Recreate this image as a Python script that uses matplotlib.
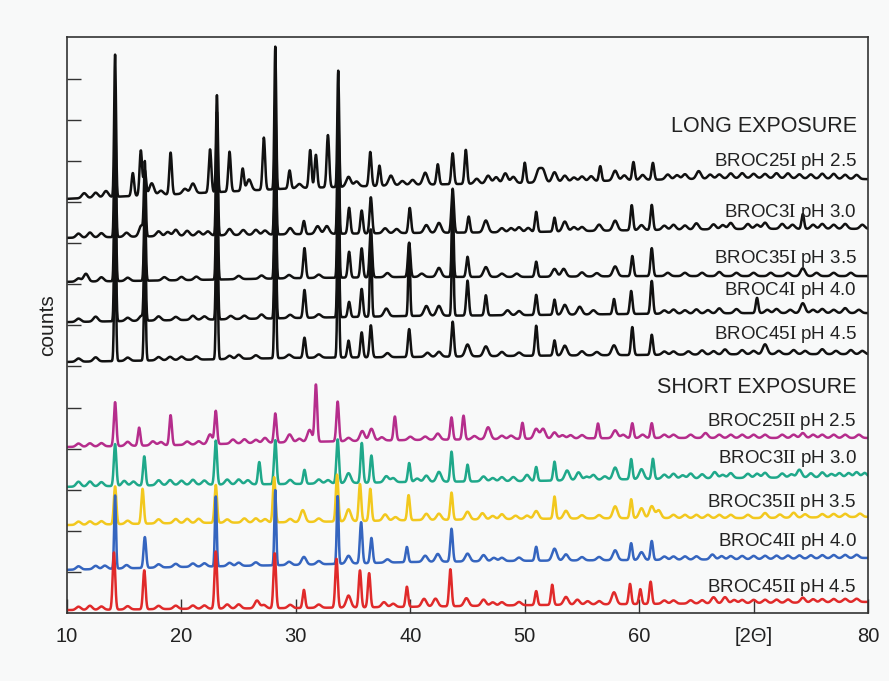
import numpy as np
import matplotlib.pyplot as plt

plt.rcParams['font.family'] = ['Liberation Sans', 'DejaVu Sans']
plt.rcParams['mathtext.fontset'] = 'stix'

# x axis
xticks = [10, 20, 30, 40, 50, 60, 70, 80]
xtick_labels = ["10", "20", "30", "40", "50", "60", "[2\u0398]", "80"]

# baseline level (counts) read at 2theta = 10, 20, ..., 80
base_2theta = [10, 20, 30, 40, 50, 60, 70, 80]
base_25I = [1008, 1020, 1034, 1042, 1047, 1054, 1059, 1056]
base_3I = [913, 918, 922, 925, 927, 932, 935, 935]
base_35I = [806, 810, 815, 818, 818, 820, 820, 820]
base_4I = [708, 713, 718, 723, 725, 728, 730, 730]
base_45I = [611, 616, 621, 623, 626, 628, 630, 630]
base_25II = [404, 409, 416, 421, 424, 426, 426, 426]
base_3II = [307, 312, 314, 319, 321, 326, 329, 331]
base_35II = [214, 219, 221, 226, 229, 231, 231, 234]
base_4II = [105, 112, 117, 124, 127, 129, 131, 134]
base_45II = [7, 10, 12, 15, 19, 22, 24, 27]

# peaks (2theta, height in counts above baseline)
peaks_25I = [(11.5, 12), (12.5, 12), (13.4, 15), (14.2, 346), (15.75, 56), (16.45, 110),
             (16.8, 61), (17.4, 29), (18.2, 10), (19.05, 102), (20.3, 12), (21.0, 24),
             (22.5, 105), (23.1, 236), (24.2, 97), (25.35, 54), (25.9, 27), (27.2, 127),
             (28.2, 347), (29.45, 44), (30.3, 10), (31.25, 92), (31.75, 80), (32.8, 127),
             (33.7, 283), (34.6, 24), (35.3, 12), (36.5, 83), (37.3, 49), (38.3, 24),
             (39.3, 10), (40.2, 12), (41.3, 29), (42.4, 49), (43.7, 75), (44.85, 83),
             (45.8, 12), (46.8, 19), (47.5, 15), (48.3, 24), (49.0, 15), (50.0, 49),
             (51.2, 29), (51.6, 29), (52.6, 24), (53.5, 15), (54.3, 10), (55.0, 12),
             (55.8, 12), (56.6, 36), (57.9, 24), (58.7, 12), (59.5, 44), (60.3, 12),
             (61.2, 41), (62.5, 12), (63.3, 10), (64.0, 12), (65.2, 19), (66.2, 10),
             (67.0, 10), (68.0, 12), (69.0, 12), (70.0, 10), (71.0, 10), (72.0, 12),
             (73.0, 12), (74.0, 10), (75.0, 10), (76.0, 12), (77.0, 12), (78.0, 10), (79.0, 10)]
peaks_3I = [(11.0, 10), (12.0, 12), (13.0, 10), (14.2, 300), (15.2, 10), (16.5, 27),
            (16.8, 175), (18.0, 12), (18.8, 10), (19.5, 15), (20.5, 12), (21.5, 10),
            (22.3, 10), (23.1, 300), (24.2, 15), (25.4, 12), (26.5, 12), (27.3, 10),
            (28.2, 320), (29.5, 15), (30.7, 32), (31.9, 19), (32.7, 19), (33.7, 300),
            (34.65, 63), (35.75, 56), (36.55, 88), (37.8, 12), (38.8, 10), (39.95, 61),
            (41.4, 19), (42.5, 24), (43.7, 107), (45.1, 39), (46.6, 29), (48.0, 10),
            (48.8, 10), (49.5, 12), (50.3, 10), (51.0, 49), (52.6, 34), (53.5, 24),
            (54.3, 10), (55.0, 10), (56.5, 15), (57.9, 24), (59.35, 61), (60.2, 12),
            (61.1, 61), (62.2, 10), (63.0, 12), (64.0, 10), (65.0, 15), (66.5, 12),
            (67.3, 10), (68.0, 15), (69.5, 12), (70.3, 10), (71.0, 15), (72.5, 12),
            (73.4, 10), (74.3, 36), (75.2, 10), (76.0, 12), (77.0, 10), (78.0, 12), (79.5, 10)]
peaks_35I = [(11.0, 8), (11.65, 19), (13.0, 10), (14.2, 330), (15.3, 8), (16.8, 195),
             (18.5, 8), (20.0, 8), (21.3, 8), (23.1, 330), (25.0, 8), (27.0, 8),
             (28.2, 330), (29.4, 8), (30.75, 73), (32.0, 8), (33.7, 330), (34.65, 63),
             (35.75, 71), (36.55, 117), (38.0, 10), (39.9, 83), (41.0, 8), (42.5, 22),
             (43.7, 187), (45.0, 49), (46.6, 24), (48.0, 8), (49.3, 8), (51.0, 37),
             (52.6, 19), (53.4, 19), (55.0, 10), (56.3, 8), (57.9, 24), (59.4, 49),
             (61.1, 68), (62.5, 8), (64.0, 8), (65.5, 8), (67.0, 10), (68.5, 8),
             (70.0, 8), (71.5, 8), (73.0, 8), (74.3, 19), (75.5, 8), (77.0, 8), (78.5, 8)]
peaks_4I = [(11.0, 8), (12.5, 12), (14.2, 320), (15.3, 8), (16.5, 12), (16.8, 230),
            (18.0, 10), (19.5, 8), (21.0, 10), (22.0, 8), (23.1, 320), (24.3, 8),
            (25.5, 8), (27.0, 10), (28.2, 320), (29.5, 8), (30.75, 68), (32.0, 8),
            (33.7, 320), (34.65, 37), (35.75, 68), (36.55, 212), (37.9, 19), (39.9, 178),
            (41.4, 24), (42.5, 24), (43.7, 234), (45.0, 85), (46.6, 49), (48.5, 12),
            (49.5, 10), (51.0, 49), (52.6, 37), (53.5, 24), (54.8, 19), (56.0, 10),
            (57.8, 37), (59.3, 56), (61.1, 80), (62.2, 8), (63.0, 10), (64.0, 8),
            (65.0, 10), (66.0, 8), (67.0, 12), (68.5, 10), (70.3, 37), (71.2, 8),
            (72.0, 10), (73.2, 8), (74.3, 24), (75.2, 8), (76.0, 10), (77.0, 8),
            (78.0, 12), (79.2, 8)]
peaks_45I = [(11.0, 8), (12.5, 10), (14.2, 300), (15.3, 8), (16.8, 230), (18.0, 8),
             (19.0, 8), (20.0, 8), (21.3, 8), (23.1, 300), (24.2, 8), (25.0, 10),
             (26.5, 8), (28.2, 300), (29.4, 8), (30.75, 49), (32.0, 8), (33.7, 300),
             (34.6, 41), (35.75, 61), (36.55, 78), (38.0, 10), (39.9, 68), (41.5, 10),
             (42.5, 12), (43.7, 85), (45.0, 29), (46.6, 24), (48.0, 10), (49.5, 8),
             (51.0, 73), (52.6, 37), (53.5, 24), (55.0, 10), (56.3, 8), (57.8, 24),
             (59.4, 68), (61.1, 49), (62.2, 8), (63.0, 8), (64.3, 8), (65.5, 10),
             (66.5, 8), (67.5, 12), (69.0, 10), (70.0, 8), (71.0, 24), (72.2, 8),
             (73.5, 10), (74.5, 8), (76.0, 12), (77.2, 8), (78.5, 10), (79.5, 8)]
peaks_25II = [(11.0, 8), (12.0, 8), (13.0, 8), (14.2, 107), (15.3, 10), (16.3, 44),
              (17.5, 10), (18.2, 8), (19.05, 73), (20.5, 8), (21.5, 8), (22.5, 24),
              (23.0, 80), (24.5, 10), (25.5, 10), (26.5, 8), (27.3, 12), (28.2, 71),
              (29.45, 19), (30.3, 8), (31.2, 29), (31.75, 139), (33.65, 97), (34.6, 8),
              (35.8, 24), (36.6, 29), (37.5, 8), (38.65, 58), (40.0, 8), (41.3, 8),
              (42.4, 15), (43.6, 54), (44.65, 58), (45.6, 8), (46.8, 29), (48.0, 8),
              (48.8, 8), (49.8, 39), (51.0, 24), (51.6, 24), (52.6, 15), (53.3, 8),
              (54.0, 8), (55.0, 8), (56.4, 36), (57.9, 19), (58.6, 8), (59.4, 36),
              (60.3, 8), (61.1, 36), (62.2, 8), (63.0, 8), (64.5, 8), (65.8, 12),
              (67.0, 8), (68.0, 8), (69.0, 8), (70.0, 8), (71.0, 8), (72.5, 8),
              (73.5, 8), (74.3, 12), (75.2, 8), (76.0, 8), (77.0, 8), (78.0, 8), (79.2, 8)]
peaks_3II = [(11.0, 12), (12.0, 12), (13.0, 10), (14.2, 102), (15.0, 12), (15.8, 10),
             (16.75, 71), (18.0, 12), (19.0, 12), (20.0, 10), (21.0, 12), (22.0, 10),
             (23.0, 107), (24.0, 12), (25.0, 12), (25.8, 10), (26.8, 54), (28.2, 107),
             (29.5, 10), (30.75, 34), (32.0, 10), (32.8, 8), (33.65, 107), (34.6, 24),
             (35.76, 97), (36.6, 66), (37.9, 15), (38.5, 10), (39.9, 46), (40.6, 8),
             (41.4, 15), (42.5, 24), (43.6, 73), (45.0, 41), (46.4, 12), (47.2, 8),
             (48.0, 10), (49.0, 10), (50.2, 15), (51.0, 34), (52.6, 46), (53.7, 24),
             (54.7, 19), (55.4, 8), (56.0, 12), (57.0, 8), (57.9, 29), (59.3, 49),
             (60.2, 24), (61.2, 49), (62.2, 10), (63.0, 12), (63.8, 8), (64.5, 12),
             (65.5, 10), (66.6, 15), (67.3, 8), (68.0, 12), (69.5, 10), (70.3, 10),
             (71.0, 12), (72.5, 10), (73.3, 8), (74.0, 19), (75.0, 10), (76.0, 12),
             (76.8, 8), (77.5, 10), (78.3, 10), (79.0, 12), (79.7, 10)]
peaks_35II = [(11.0, 8), (12.0, 8), (13.0, 8), (14.2, 92), (15.3, 8), (16.6, 85),
              (18.0, 10), (19.5, 10), (20.5, 10), (21.5, 10), (23.0, 92), (24.0, 8),
              (25.5, 10), (26.5, 10), (27.3, 8), (28.1, 110), (29.5, 8), (30.6, 29),
              (32.0, 8), (33.6, 114), (34.6, 29), (35.6, 90), (36.5, 78), (37.8, 15),
              (38.7, 8), (39.85, 61), (41.4, 15), (42.5, 15), (43.6, 66), (45.0, 19),
              (46.3, 15), (47.2, 8), (48.0, 12), (49.2, 8), (50.2, 8), (51.0, 19),
              (52.6, 54), (53.6, 19), (55.0, 8), (56.5, 8), (57.9, 29), (59.3, 46),
              (60.2, 24), (61.1, 29), (61.7, 19), (63.0, 8), (64.0, 8), (65.0, 8),
              (66.0, 8), (67.0, 8), (68.0, 8), (69.5, 8), (71.0, 12), (72.3, 8),
              (73.5, 12), (74.5, 8), (76.0, 8), (77.0, 8), (78.0, 8), (79.3, 8)]
peaks_4II = [(11.0, 8), (12.5, 8), (13.3, 8), (14.2, 178), (15.2, 8), (16.8, 75),
             (18.0, 8), (19.5, 8), (21.0, 8), (22.0, 8), (23.0, 170), (24.2, 8),
             (25.0, 8), (26.5, 8), (28.2, 183), (29.4, 8), (30.7, 19), (32.0, 8),
             (33.65, 166), (34.6, 19), (35.7, 100), (36.6, 61), (38.0, 8), (39.7, 37),
             (41.3, 15), (42.4, 19), (43.6, 80), (45.0, 19), (46.4, 15), (47.3, 8),
             (48.0, 8), (49.5, 8), (51.0, 34), (52.6, 29), (53.6, 15), (55.0, 8),
             (56.5, 8), (57.9, 24), (59.3, 41), (60.2, 19), (61.1, 46), (62.2, 8),
             (63.0, 8), (64.0, 8), (65.0, 8), (66.4, 12), (67.2, 8), (68.0, 8),
             (69.0, 8), (70.0, 8), (71.0, 8), (72.0, 8), (73.0, 8), (74.0, 8),
             (75.0, 8), (76.0, 8), (77.0, 8), (78.0, 8), (79.0, 8)]
peaks_45II = [(11.0, 8), (12.0, 10), (13.0, 8), (14.1, 139), (15.3, 8), (16.75, 95),
              (18.0, 8), (19.5, 8), (21.0, 8), (22.0, 8), (23.0, 139), (24.0, 10),
              (25.0, 10), (26.6, 19), (27.2, 8), (28.15, 134), (29.5, 8), (30.7, 44),
              (32.0, 8), (33.55, 119), (34.6, 29), (35.6, 90), (36.4, 83), (37.7, 12),
              (38.5, 8), (39.7, 49), (41.2, 19), (42.2, 19), (43.5, 90), (44.9, 19),
              (46.4, 15), (47.2, 8), (48.0, 8), (49.5, 8), (51.0, 34), (52.4, 49),
              (53.6, 19), (54.6, 12), (55.5, 8), (56.5, 8), (57.8, 29), (59.2, 49),
              (60.1, 36), (61.0, 54), (62.2, 8), (63.0, 8), (64.5, 8), (65.5, 8),
              (66.5, 15), (67.5, 15), (68.3, 8), (69.0, 8), (70.0, 8), (71.0, 8),
              (72.0, 8), (73.0, 8), (74.3, 12), (75.2, 8), (76.0, 8), (77.0, 8),
              (78.0, 8), (79.0, 8)]

names = ["BROC25$\\mathrm{I}$ pH 2.5", "BROC3$\\mathrm{I}$ pH 3.0",
         "BROC35$\\mathrm{I}$ pH 3.5", "BROC4$\\mathrm{I}$ pH 4.0",
         "BROC45$\\mathrm{I}$ pH 4.5",
         "BROC25$\\mathrm{II}$ pH 2.5", "BROC3$\\mathrm{II}$ pH 3.0",
         "BROC35$\\mathrm{II}$ pH 3.5", "BROC4$\\mathrm{II}$ pH 4.0",
         "BROC45$\\mathrm{II}$ pH 4.5"]
bases = [base_25I, base_3I, base_35I, base_4I, base_45I,
         base_25II, base_3II, base_35II, base_4II, base_45II]
peaks = [peaks_25I, peaks_3I, peaks_35I, peaks_4I, peaks_45I,
         peaks_25II, peaks_3II, peaks_35II, peaks_4II, peaks_45II]
colors = ["#111111"] * 5 + ["#b52d8c", "#1fa88a", "#f2c81e", "#3565bf", "#e02a2a"]
label_y = [1098, 974, 862, 786, 677, 465, 375, 270, 173, 63]

x = np.linspace(10, 80, 3501)


def pattern(base, pk):
    y = np.interp(x, base_2theta, base)
    for p, h in pk:
        # tall reflections are sharper, small bumps broader
        w = 0.08 if h > 150 else (0.11 if h > 30 else 0.2)
        y = y + h * np.exp(-0.5 * ((x - p) / w) ** 2)
    return y


bg = "#f8f9f9"
fig = plt.figure(figsize=(8.89, 6.81), dpi=100, facecolor=bg)
ax = fig.add_axes([0.0754, 0.0999, 0.9010, 0.8458], facecolor=bg)

for name, base, pk, c, ly in zip(names, bases, peaks, colors, label_y):
    ax.plot(x, pattern(base, pk), color=c, lw=1.8)
    ax.text(79.0, ly, name, ha="right", va="center", fontsize=13.5, color="#222222")

ax.text(79.0, 1183, "LONG EXPOSURE", ha="right", va="center", fontsize=15.5, color="#222222")
ax.text(79.0, 548, "SHORT EXPOSURE", ha="right", va="center", fontsize=15.5, color="#222222")

ax.set_xlim(10, 80)
ax.set_ylim(0, 1402)
ax.set_xticks(xticks)
ax.set_xticklabels(xtick_labels)
ax.set_yticks(range(100, 1400, 100))
ax.set_yticklabels([])
ax.tick_params(direction="in", length=10, width=1, labelsize=14.5, pad=10, colors="#333333")
ax.tick_params(axis="x", labelcolor="#222222")
ax.set_ylabel("counts", fontsize=15, labelpad=-3, color="#222222")
for s in ax.spines.values():
    s.set_linewidth(1.2)
    s.set_color("#333333")

fig.savefig("out.png", dpi=100, facecolor=bg)
